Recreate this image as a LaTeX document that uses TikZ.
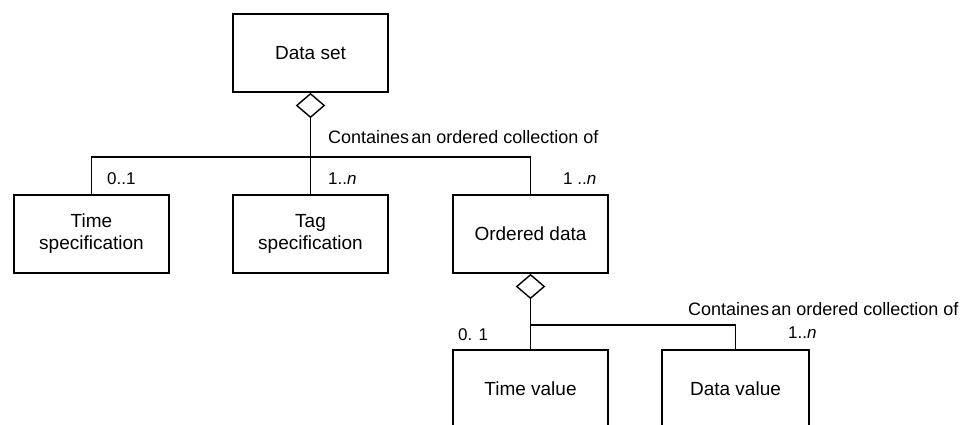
\documentclass[tikz,border=0pt]{standalone}
\usepackage{fontspec}
\setmainfont{Liberation Sans}
\usetikzlibrary{shapes.geometric}
\begin{document}
\begin{tikzpicture}[x=1pt,y=-1pt,
  box/.style={draw,line width=1.6pt,minimum height=78pt,align=center,
    font=\fontsize{19}{22}\selectfont,inner sep=0pt},
  agg/.style={draw,line width=1.4pt,fill=white,shape=diamond,minimum width=28pt,
    minimum height=24pt,inner sep=0pt,anchor=north},
  conn/.style={line width=1.6pt},
  lbl/.style={font=\fontsize{17}{20}\selectfont,inner sep=0pt,anchor=base west},
  note/.style={font=\fontsize{18}{20}\selectfont,inner sep=0pt,anchor=base west}]
\useasboundingbox (0,0) rectangle (963,425);
\node[box,minimum width=155pt] (ds) at (310.5,53) {Data set};
\node[box,minimum width=155pt] (ts) at (91.5,234) {Time\\specification};
\node[box,minimum width=155pt] (tg) at (310.5,234) {Tag\\specification};
\node[box,minimum width=155pt] (od) at (530.5,234) {Ordered data};
\node[box,minimum width=155pt] (tv) at (530.5,389) {Time value};
\node[box,minimum width=147pt] (dv) at (735.5,389) {Data value};
\node[agg] (d1) at (ds.south) {};
\node[agg] (d2) at (od.south) {};
\coordinate (bar1) at (310.5,157);
\coordinate (bar2) at (530.5,325);
\draw[conn] (d1.south) -- (tg.north);
\draw[conn] (ts.north) |- (bar1) -| (od.north);
\draw[conn] (d2.south) -- (tv.north);
\draw[conn] (bar2) -| (dv.north);
\node[note] (l1) at (328,143) {Containes\hspace{0.12em}an ordered collection of};
\node[lbl] (m1) at (107,184) {0..1};
\node[lbl] (m2) at (328,184) {1..\textit{n}};
\node[lbl] (m3) at (563,184) {1 ..\textit{n}};
\node[note] (l2) at (688,315) {Containes\hspace{0.12em}an ordered collection of};
\node[lbl] (m4) at (458,340) {0. 1};
\node[lbl] (m5) at (788,338) {1..\textit{n}};
\end{tikzpicture}
\end{document}
